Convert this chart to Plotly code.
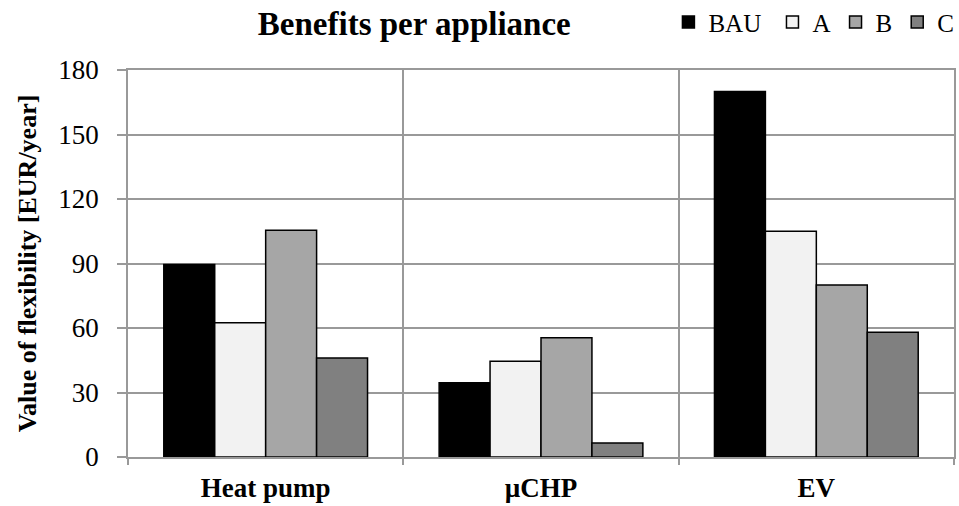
import plotly.graph_objects as go

categories = ["Heat pump", "µCHP", "EV"]
series_names = ["BAU", "A", "B", "C"]
bau = [89.5, 34.5, 170]
a = [62.5, 44.5, 105]
b = [105.5, 55.5, 80]
c = [46, 6.5, 58]
values = [bau, a, b, c]
colors = ["#000000", "#f2f2f2", "#a6a6a6", "#808080"]
y_ticks = [0, 30, 60, 90, 120, 150, 180]

FONT = "Liberation Serif"

fig = go.Figure()
for name, vals, col in zip(series_names, values, colors):
    label = name + "\u00a0" if name == "BAU" else name
    fig.add_trace(go.Bar(
        x=categories, y=vals, name=label,
        marker=dict(color=col, line=dict(color="#000000", width=1.5)),
    ))

fig.update_layout(
    width=959, height=506,
    barmode="group", bargap=0.26, bargroupgap=0,
    plot_bgcolor="white", paper_bgcolor="white",
    margin=dict(l=128, r=3, t=70, b=48),
    font=dict(family=FONT, color="#000000", size=25),
    title=dict(text="<b>Benefits per appliance</b>", x=0.432, xanchor="center",
               y=0.953, yanchor="middle", font=dict(family=FONT, size=33)),
    legend=dict(orientation="h", xref="container", yref="container",
                x=0.697, xanchor="left", y=0.956, yanchor="middle",
                font=dict(family=FONT, size=25),
                traceorder="normal", tracegroupgap=0, itemwidth=30,
                bgcolor="rgba(0,0,0,0)"),
    showlegend=True,
)
fig.update_xaxes(
    type="category", tickson="boundaries",
    showgrid=True, gridcolor="#999999", gridwidth=1.5,
    showline=True, linecolor="#999999", linewidth=1.5, mirror=True,
    ticks="outside", ticklen=6, tickcolor="#999999", tickwidth=1.5,
    tickfont=dict(family=FONT, size=27),
    tickprefix="<b>", ticksuffix="</b>",
    ticklabelstandoff=6,
)
fig.update_yaxes(
    range=[0, 180], tickvals=y_ticks,
    showgrid=True, gridcolor="#999999", gridwidth=1.5,
    showline=True, linecolor="#999999", linewidth=1.5, mirror=True,
    ticks="outside", ticklen=9, tickcolor="#999999", tickwidth=1.5,
    tickfont=dict(family=FONT, size=27),
    ticklabelstandoff=13,
    title=dict(text="<b>Value of flexibility [EUR/year]</b>", font=dict(family=FONT, size=26), standoff=14),
    zeroline=False,
)

fig.write_html("out.html")
